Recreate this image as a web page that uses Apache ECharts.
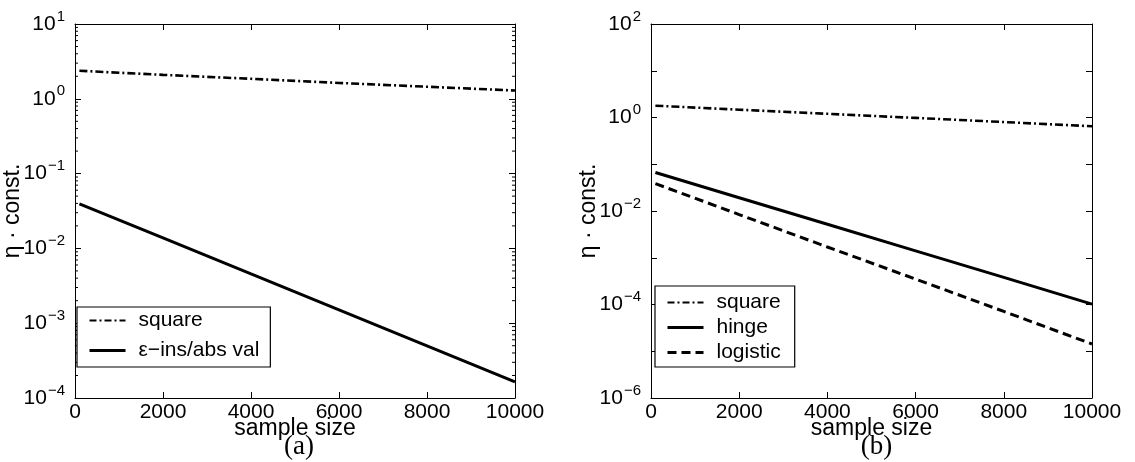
<!DOCTYPE html>
<html>
<head>
<meta charset="utf-8">
<script src="https://cdn.jsdelivr.net/npm/echarts@6/dist/echarts.min.js"></script>
<style>
html,body{margin:0;padding:0;background:#fff;}
#main{width:1135px;height:462px;}
</style>
</head>
<body>
<div id="main"></div>
<script>
// ---------- data ----------
const sampleSizes = [100, 2000, 4000, 6000, 8000, 10000];
// panel (a)
const aSquare = [2.37, 2.09, 1.85, 1.63, 1.45, 1.29];
const aEpsIns = [0.0394, 0.0138, 0.00455, 0.00151, 0.000498, 0.000164];
// panel (b)
const bSquare = [1.79, 1.47, 1.20, 0.98, 0.80, 0.65];
const bHinge = [0.0665, 0.0192, 0.0052, 0.0014, 0.00038, 0.000102];
const bLogistic = [0.0385, 0.0084, 0.0017, 0.00035, 0.000071, 0.0000143];
const aLegend = ['square', 'ε−ins/abs val'];
const bLegend = ['square', 'hinge', 'logistic'];
const panelLabels = ['(a)', '(b)'];
const aYRange = [1e-4, 10];
const bYRange = [1e-6, 100];
const xRange = [0, 10000];
const xStep = 2000;

// ---------- helpers ----------
const FONT = 'Liberation Sans, Arial, Helvetica, sans-serif';
function pairs(xs, ys) { return xs.map((x, i) => [x, ys[i]]); }
function supLabel(v, step) {
  const e = Math.round(Math.log10(v));
  if (step && e % step !== 0) return '';
  const es = e < 0 ? '\u2212' + (-e) : String(e);
  return '{b|10}{s|' + es + '}';
}
const richSup = {
  b: { fontSize: 21, fontFamily: FONT, color: '#000' },
  s: { fontSize: 15, fontFamily: FONT, color: '#000', padding: [0, 0, 15, 1] }
};
// minor log tick values (2..9 x 10^n) inside a range
function minorTickVals(range) {
  const out = [];
  const lo = Math.round(Math.log10(range[0])), hi = Math.round(Math.log10(range[1]));
  for (let e = lo; e < hi; e++) for (let k = 2; k <= 9; k++) out.push([0, k * Math.pow(10, e)]);
  return out;
}

const grids = [
  { left: 73, top: 24, width: 442, height: 374 },
  { left: 651, top: 24, width: 441, height: 374 }
];

function xAxes(gi) {
  const base = {
    type: 'value', gridIndex: gi, min: xRange[0], max: xRange[1], interval: xStep,
    axisLine: { show: true, onZero: false, lineStyle: { color: '#000', width: 1 } },
    axisTick: { show: true, inside: true, length: 6, lineStyle: { color: '#000' } },
    splitLine: { show: false }
  };
  return [
    Object.assign({}, base, {
      position: 'bottom',
      axisLabel: { show: true, color: '#000', fontSize: 21, fontFamily: FONT, margin: 4, formatter: v => String(v) },
      name: 'sample size', nameLocation: 'middle', nameGap: 19, nameMoveOverlap: false,
      nameTextStyle: { color: '#000', fontSize: 23, fontFamily: FONT }
    }),
    Object.assign({}, base, { position: 'top', axisLabel: { show: false } })
  ];
}
function yAxes(gi, range, step) {
  const base = {
    type: 'log', logBase: 10, gridIndex: gi, min: range[0], max: range[1], interval: 1,
    axisLine: { show: true, onZero: false, lineStyle: { color: '#000', width: 1 } },
    axisTick: { show: true, inside: true, length: 6, lineStyle: { color: '#000' } },
    splitLine: { show: false }, minorTick: { show: false }
  };
  return [
    Object.assign({}, base, {
      position: 'left',
      axisLabel: {
        show: true, margin: 10, formatter: v => supLabel(v, step), rich: richSup
      },
      name: 'η · const.', nameLocation: 'middle', nameGap: 51, nameRotate: 90, nameMoveOverlap: false,
      nameTextStyle: { color: '#000', fontSize: 23, fontFamily: FONT }
    }),
    Object.assign({}, base, { position: 'right', axisLabel: { show: false } })
  ];
}

function lineSeries(name, xi, yi, data, width, type) {
  return {
    name, type: 'line', xAxisIndex: xi, yAxisIndex: yi, data,
    symbol: 'none', showSymbol: false, smooth: false, silent: true,
    lineStyle: { color: '#000', width, type },
    itemStyle: { color: '#000' }
  };
}

const dashDot = [8, 3, 2, 3];
const dash = [9, 5];
const styleOf = { 'square': [2, [7, 3, 2, 3]], 'ε−ins/abs val': [3, 'solid'], 'hinge': [3, 'solid'], 'logistic': [3, dash] };

const minorTicks = {
  type: 'custom', xAxisIndex: 0, yAxisIndex: 0, silent: true,
  data: minorTickVals(aYRange), encode: { x: 0, y: 1 },
  renderItem: function (params, api) {
    const v = api.value(1);
    const pL = api.coord([xRange[0], v]);
    const pR = api.coord([xRange[1], v]);
    return {
      type: 'group', children: [
        { type: 'line', shape: { x1: pL[0], y1: pL[1], x2: pL[0] + 3, y2: pL[1] }, style: { stroke: '#000', lineWidth: 1 } },
        { type: 'line', shape: { x1: pR[0], y1: pR[1], x2: pR[0] - 3, y2: pR[1] }, style: { stroke: '#000', lineWidth: 1 } }
      ]
    };
  }
};

function legendData(names) {
  return names.map(n => ({ name: n, lineStyle: { width: styleOf[n][0], type: styleOf[n][1], color: '#000' } }));
}

const legendBase = {
  orient: 'vertical', itemWidth: 36, itemHeight: 14,
  borderColor: '#000', borderWidth: 1.2, backgroundColor: '#fff', borderRadius: 0,
  selectedMode: false,
  itemStyle: { color: 'rgba(0,0,0,0)', borderWidth: 0, opacity: 0 },
  textStyle: { color: '#000', fontSize: 21, fontFamily: FONT, lineHeight: 20, padding: [0, 0, 0, 8] }
};

const option = {
  animation: false,
  backgroundColor: '#fff',
  grid: grids.map(g => Object.assign({ containLabel: false }, g)),
  xAxis: [...xAxes(0), ...xAxes(1)],
  yAxis: [...yAxes(0, aYRange, 0), ...yAxes(1, bYRange, 2)],
  legend: [
    Object.assign({}, legendBase, { data: legendData(aLegend), left: 77, top: 307, itemGap: 9, padding: [3, 11, 6, 11] }),
    Object.assign({}, legendBase, { data: legendData(bLegend), left: 655, top: 286, itemGap: 4, padding: [6, 14, 4, 11] })
  ],
  title: panelLabels.map((t, i) => ({
    text: t, left: grids[i].left + grids[i].width / 2, top: 428, textAlign: 'center',
    textStyle: { fontFamily: 'Liberation Serif, DejaVu Serif, serif', fontWeight: 'normal', fontSize: 27, color: '#000' }
  })),
  series: [
    minorTicks,
    lineSeries(aLegend[0], 0, 0, pairs(sampleSizes, aSquare), 2.6, dashDot),
    lineSeries(aLegend[1], 0, 0, pairs(sampleSizes, aEpsIns), 3, 'solid'),
    lineSeries(bLegend[0], 2, 2, pairs(sampleSizes, bSquare), 2.6, dashDot),
    lineSeries(bLegend[1], 2, 2, pairs(sampleSizes, bHinge), 3, 'solid'),
    lineSeries(bLegend[2], 2, 2, pairs(sampleSizes, bLogistic), 3, dash)
  ]
};
const chart = echarts.init(document.getElementById('main'), null, { renderer: 'canvas' });
chart.setOption(option);
</script>
</body>
</html>
